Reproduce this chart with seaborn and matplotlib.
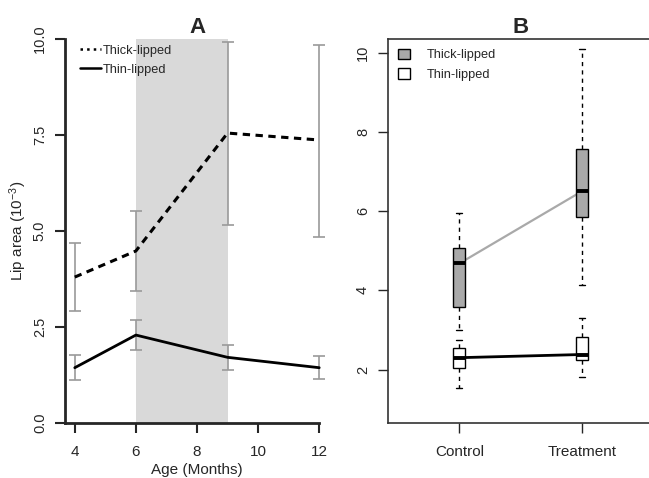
import numpy as np
import pandas as pd
import matplotlib
matplotlib.use('Agg')
import matplotlib.pyplot as plt
from matplotlib.lines import Line2D
from matplotlib.patches import Patch
import seaborn as sns

# Panel A: mean lip area by age, with error bars
ages = [4, 6, 9, 12]
thick_mean = [3.80, 4.48, 7.55, 7.37]
thick_lo = [2.92, 3.45, 5.15, 4.85]
thick_hi = [4.68, 5.51, 9.93, 9.84]
thin_mean = [1.44, 2.29, 1.71, 1.44]
thin_lo = [1.12, 1.90, 1.39, 1.14]
thin_hi = [1.77, 2.68, 2.02, 1.75]
shade_start, shade_end = 6, 9

# Panel B: five-number summaries (min, q1, median, q3, max)
groups = ['Control', 'Treatment']
thick_control = [2.99, 3.58, 4.68, 5.07, 5.95]
thick_treatment = [4.14, 5.85, 6.50, 7.57, 10.10]
thin_control = [1.54, 2.05, 2.30, 2.55, 2.74]
thin_treatment = [1.81, 2.23, 2.38, 2.82, 3.31]

sns.set_theme(style='ticks')
plt.rcParams['font.family'] = ['Liberation Sans', 'DejaVu Sans']
plt.rcParams['mathtext.default'] = 'regular'

fig = plt.figure(figsize=(6.49, 4.78), dpi=100)
W, H = 649, 478
axA = fig.add_axes([65 / W, 55 / H, 264 / W, 384 / H])
axB = fig.add_axes([388 / W, 55 / H, 265 / W, 384 / H])

# ---- Panel A ----
axA.axvspan(shade_start, shade_end, color='#d9d9d9', lw=0, zorder=0)
for m, lo, hi in [(thick_mean, thick_lo, thick_hi), (thin_mean, thin_lo, thin_hi)]:
    m, lo, hi = np.array(m), np.array(lo), np.array(hi)
    axA.errorbar(ages, m, yerr=[m - lo, hi - m], fmt='none', ecolor='#9a9a9a',
                 elinewidth=1.2, capsize=4.5, capthick=1.2, zorder=2)
sns.lineplot(x=ages, y=thick_mean, ax=axA, color='black', lw=2.2,
             dashes=False, zorder=3).lines[-1].set_dashes((2.4, 1.8))
sns.lineplot(x=ages, y=thin_mean, ax=axA, color='black', lw=2.0, zorder=3)

axA.set_xlim(3.68, 12.32)
axA.set_ylim(0, 10)
axA.set_xticks([4, 6, 8, 10, 12])
axA.set_yticks([0, 2.5, 5, 7.5, 10])
axA.set_yticklabels(['0.0', '2.5', '5.0', '7.5', '10.0'])
sns.despine(ax=axA)
axA.spines['left'].set_bounds(0, 10)
axA.spines['bottom'].set_bounds(3.68, 12)
for s in ['left', 'bottom']:
    axA.spines[s].set_linewidth(2)
axA.tick_params(axis='both', length=7, width=1.5, direction='out', pad=5)
axA.tick_params(axis='x', labelsize=11, pad=8.5)
axA.tick_params(axis='y', labelsize=10.5, labelrotation=90, pad=6)
for t in axA.get_yticklabels():
    t.set_va('center')
axA.set_xlabel('Age (Months)', fontsize=11, labelpad=3)
axA.set_ylabel('Lip area (10$^{-3}$)', fontsize=11, labelpad=3)
axA.set_title('A', fontsize=16, fontweight='bold', pad=4)

handlesA = [Line2D([], [], color='black', ls=':', lw=1.8),
            Line2D([], [], color='black', ls='-', lw=1.8)]
axA.legend(handlesA, ['Thick-lipped', 'Thin-lipped'], loc='upper left',
           bbox_to_anchor=(0.015, 1.015), frameon=False, fontsize=9.2,
           handlelength=1.6, handletextpad=0.15, labelspacing=0.55)

# ---- Panel B ----
rows = []
for g, vals in zip(groups, [thick_control, thick_treatment]):
    rows += [(g, 'Thick-lipped', v) for v in vals]
for g, vals in zip(groups, [thin_control, thin_treatment]):
    rows += [(g, 'Thin-lipped', v) for v in vals]
df = pd.DataFrame(rows, columns=['group', 'type', 'area'])

pos = np.arange(len(groups))
sns.lineplot(x=pos, y=[thick_control[2], thick_treatment[2]], ax=axB,
             color='#a9a9a9', lw=1.6, zorder=1)
sns.lineplot(x=pos, y=[thin_control[2], thin_treatment[2]], ax=axB,
             color='black', lw=2.0, zorder=1)

sns.boxplot(data=df, x='group', y='area', hue='type', order=groups,
            hue_order=['Thick-lipped', 'Thin-lipped'], dodge=False, width=0.1,
            whis=(0, 100), saturation=1, linecolor='black', linewidth=1,
            palette={'Thick-lipped': '#a9a9a9', 'Thin-lipped': 'white'},
            whiskerprops=dict(ls=(0, (3, 3))), medianprops=dict(lw=2.8),
            legend=False, ax=axB)

axB.set_xlim(-0.583, 1.583)
axB.set_ylim(0.65, 10.35)
axB.set_xticks(pos)
axB.set_xticklabels(groups)
axB.set_yticks([2, 4, 6, 8, 10])
axB.set_xlabel('')
axB.set_ylabel('')
for s in axB.spines.values():
    s.set_linewidth(1.2)
    s.set_color('#333333')
axB.tick_params(axis='both', length=7, width=1, direction='out', pad=5)
axB.tick_params(axis='x', labelsize=11, pad=8.5)
axB.tick_params(axis='y', labelsize=10.5, labelrotation=90, pad=6)
for t in axB.get_yticklabels():
    t.set_va('center')
axB.set_title('B', fontsize=16, fontweight='bold', pad=4)

handlesB = [Patch(facecolor='#a9a9a9', edgecolor='black', lw=1),
            Patch(facecolor='white', edgecolor='black', lw=1)]
axB.legend(handlesB, ['Thick-lipped', 'Thin-lipped'], loc='upper left',
           bbox_to_anchor=(-0.005, 1.005), frameon=False, fontsize=9.2,
           handlelength=0.9, handleheight=0.9, handletextpad=1.3, labelspacing=0.55)

fig.savefig('out.png', dpi=100)
